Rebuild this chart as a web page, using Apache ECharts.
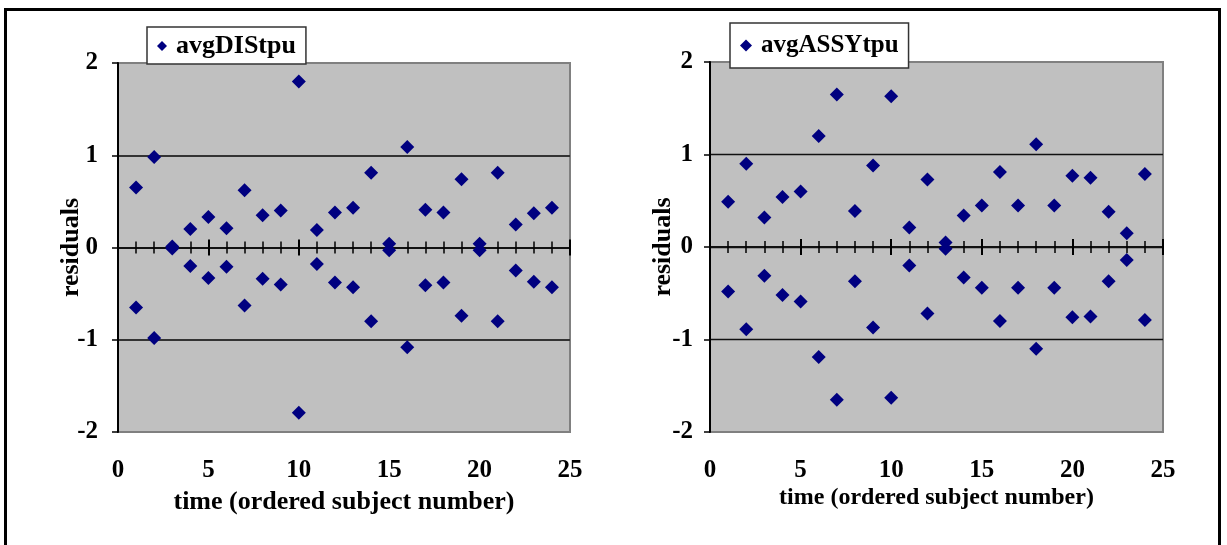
<!DOCTYPE html>
<html>
<head>
<meta charset="utf-8">
<script src="https://cdn.jsdelivr.net/npm/echarts@6/dist/echarts.min.js"></script>
<style>
  html, body { margin: 0; padding: 0; background: #fff; }
  #frame { position: absolute; left: 4px; top: 8px; width: 1217px; height: 600px; border: 3px solid #000; box-sizing: border-box; }
  #chart { position: absolute; left: 0; top: 0; width: 1227px; height: 545px; }
  body { width: 1227px; height: 545px; overflow: hidden; position: relative; }
</style>
</head>
<body>
<div id="frame"></div>
<div id="chart"></div>
<script>
// ---- data ----
const subjects = [1,2,3,4,5,6,7,8,9,10,11,12,13,14,15,16,17,18,19,20,21,22,23,24];
const disUpper = [0.65, 0.98, 0.01, 0.20, 0.33, 0.21, 0.62, 0.35, 0.40, 1.80, 0.19, 0.38, 0.43, 0.81, 0.04, 1.09, 0.41, 0.38, 0.74, 0.04, 0.81, 0.25, 0.37, 0.43];
const disLower = [-0.65, -0.98, -0.01, -0.20, -0.33, -0.21, -0.63, -0.34, -0.40, -1.79, -0.18, -0.38, -0.43, -0.80, -0.03, -1.08, -0.41, -0.38, -0.74, -0.03, -0.80, -0.25, -0.37, -0.43];
const assyUpper = [0.49, 0.90, 0.32, 0.54, 0.60, 1.20, 1.65, 0.39, 0.88, 1.63, 0.21, 0.73, 0.05, 0.34, 0.45, 0.81, 0.45, 1.11, 0.45, 0.77, 0.75, 0.38, 0.15, 0.79];
const assyLower = [-0.48, -0.89, -0.31, -0.52, -0.59, -1.19, -1.65, -0.37, -0.87, -1.63, -0.20, -0.72, -0.02, -0.33, -0.44, -0.80, -0.44, -1.10, -0.44, -0.76, -0.75, -0.37, -0.14, -0.79];
const seriesNames = ['avgDIStpu', 'avgASSYtpu'];
const xTickLabels = [0, 5, 10, 15, 20, 25];
const yTickLabels = [-2, -1, 0, 1, 2];
const xTitle = 'time (ordered subject number)';
const yTitle = 'residuals';

// ---- chart ----
const FONT = '"Liberation Serif", "Times New Roman", serif';
const NAVY = '#000080';
const xMin = xTickLabels[0], xMax = xTickLabels[xTickLabels.length - 1], xInt = xTickLabels[1] - xTickLabels[0];
const yMin = yTickLabels[0], yMax = yTickLabels[yTickLabels.length - 1], yInt = yTickLabels[1] - yTickLabels[0];

const pairs = (up, low) => subjects.map((s, i) => [s, up[i]]).concat(subjects.map((s, i) => [s, low[i]]));

const grids = [
  { left: 118, top: 63, width: 452, height: 369, titleSize: 26, titleGap: 57, yNameGap: 34, yLabelMargin: 20, splitW: 2, splitC: '#333' },
  { left: 710, top: 62, width: 453, height: 370, titleSize: 24, titleGap: 54, yNameGap: 34, yLabelMargin: 17, splitW: 1.3, splitC: '#111' }
];

const option = {
  animation: false,
  grid: grids.map(g => ({
    left: g.left, top: g.top, width: g.width, height: g.height,
    show: true, backgroundColor: '#C0C0C0', borderColor: '#808080', borderWidth: 2
  })),
  xAxis: [],
  yAxis: [],
  legend: [
    {
      data: [seriesNames[0]], left: 147, top: 27, orient: 'horizontal',
      backgroundColor: '#fff', borderColor: '#333', borderWidth: 1.5, borderRadius: 0,
      padding: [6, 10, 5, 10], itemWidth: 10, itemHeight: 10, icon: 'diamond',
      textStyle: { fontFamily: FONT, fontWeight: 'bold', fontSize: 26, color: '#000', padding: [0, 0, 0, 4] }
    },
    {
      data: [seriesNames[1]], left: 730, top: 23, orient: 'horizontal',
      backgroundColor: '#fff', borderColor: '#333', borderWidth: 1.5, borderRadius: 0,
      padding: [10, 10, 10, 10], itemWidth: 12, itemHeight: 12, icon: 'diamond',
      textStyle: { fontFamily: FONT, fontWeight: 'bold', fontSize: 25, color: '#000', padding: [0, 0, 0, 4] }
    }
  ],
  series: []
};

grids.forEach((g, gi) => {
  // label axis at grid bottom
  option.xAxis.push({
    gridIndex: gi, type: 'value', min: xMin, max: xMax, interval: xInt, position: 'bottom',
    axisLine: { show: false, onZero: false }, axisTick: { show: false }, splitLine: { show: false },
    axisLabel: { margin: 26, fontFamily: FONT, fontWeight: 'bold', fontSize: 25, color: '#000' },
    name: xTitle, nameLocation: 'middle', nameGap: g.titleGap, nameMoveOverlap: false,
    nameTextStyle: { fontFamily: FONT, fontWeight: 'bold', fontSize: g.titleSize, color: '#000' }
  });
  // zero line with downward ticks
  option.xAxis.push({
    gridIndex: gi, type: 'value', min: xMin, max: xMax, interval: xInt, position: 'bottom',
    axisLine: { show: true, onZero: true, onZeroAxisIndex: gi, lineStyle: { color: '#111', width: 2 } },
    axisTick: { show: true, length: 8, lineStyle: { color: '#000', width: 2 } },
    minorTick: { show: true, splitNumber: 5, length: 6, lineStyle: { color: '#000', width: 1.5 } },
    axisLabel: { show: false }, splitLine: { show: false }
  });
  // upward ticks on the zero line
  option.xAxis.push({
    gridIndex: gi, type: 'value', min: xMin, max: xMax, interval: xInt, position: 'bottom',
    axisLine: { show: true, onZero: true, onZeroAxisIndex: gi, lineStyle: { color: '#111', width: 2 } },
    axisTick: { show: true, inside: true, length: 8, lineStyle: { color: '#000', width: 2 } },
    minorTick: { show: true, splitNumber: 5, length: 6, lineStyle: { color: '#000', width: 1.5 } },
    axisLabel: { show: false }, splitLine: { show: false }
  });
  option.yAxis.push({
    gridIndex: gi, type: 'value', min: yMin, max: yMax, interval: yInt,
    axisLine: { show: true, onZero: false, lineStyle: { color: '#000', width: 2 } },
    axisTick: { show: true, length: 6, lineStyle: { color: '#000', width: 1.5 } },
    axisLabel: { margin: g.yLabelMargin, fontFamily: FONT, fontWeight: 'bold', fontSize: 25, color: '#000' },
    splitLine: { show: true, showMinLine: false, showMaxLine: false, lineStyle: { color: g.splitC, width: g.splitW } },
    name: yTitle, nameLocation: 'middle', nameGap: g.yNameGap, nameRotate: 90, nameMoveOverlap: false,
    nameTextStyle: { fontFamily: FONT, fontWeight: 'bold', fontSize: 26, color: '#000' }
  });
});

option.series.push({
  name: seriesNames[0], type: 'scatter', xAxisIndex: 1, yAxisIndex: 0,
  symbol: 'diamond', symbolSize: 14, itemStyle: { color: NAVY, opacity: 1 },
  data: pairs(disUpper, disLower), z: 5
});
option.series.push({
  name: seriesNames[1], type: 'scatter', xAxisIndex: 4, yAxisIndex: 1,
  symbol: 'diamond', symbolSize: 14, itemStyle: { color: NAVY, opacity: 1 },
  data: pairs(assyUpper, assyLower), z: 5
});

const chart = echarts.init(document.getElementById('chart'), null, { renderer: 'canvas' });
chart.setOption(option);
</script>
</body>
</html>
